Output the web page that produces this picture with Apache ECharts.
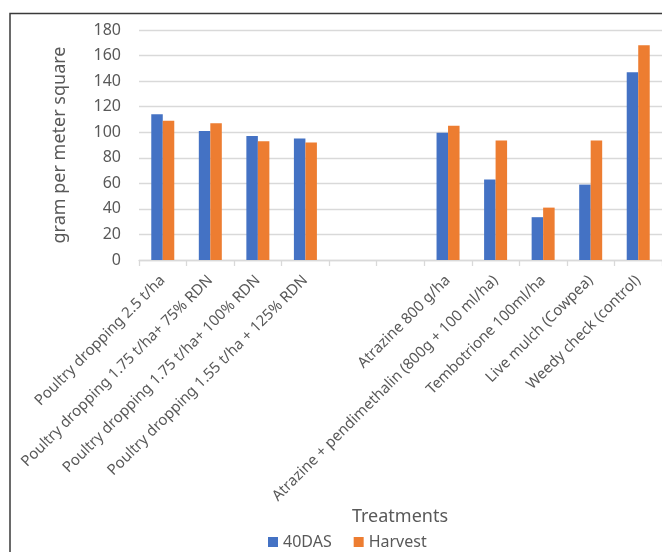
<!DOCTYPE html>
<html>
<head>
<meta charset="utf-8">
<script src="https://cdn.jsdelivr.net/npm/echarts@6/dist/echarts.min.js"></script>
<style>
  html, body { margin: 0; padding: 0; background: #fff; }
  #chart { width: 662px; height: 552px; }
</style>
</head>
<body>
<div id="chart"></div>
<script>
// Treatments on the category axis (two blank slots separate the groups)
const categories = [
  'Poultry dropping 2.5 t/ha',
  'Poultry dropping 1.75 t/ha+ 75% RDN',
  'Poultry dropping 1.75 t/ha+ 100% RDN',
  'Poultry dropping 1.55 t/ha + 125% RDN',
  '',
  '',
  'Atrazine 800 g/ha',
  'Atrazine + pendimethalin (800g + 100 ml/ha)',
  'Tembotrione 100ml/ha',
  'Live mulch (Cowpea)',
  'Weedy check (control)'
];

// Weed dry weight, gram per square metre
const das40 = [114, 101, 97, 95, null, null, 99.5, 63, 33.5, 59, 147];
const harvest = [109, 107, 93, 92, null, null, 105, 93.5, 41, 93.5, 168];

const yTicks = { min: 0, max: 180, interval: 20 };

const textColor = '#595959';
const font = 'Noto Sans';

const chart = echarts.init(document.getElementById('chart'), null, { renderer: 'canvas' });

chart.setOption({
  backgroundColor: '#ffffff',
  animation: false,
  textStyle: { fontFamily: font, color: textColor },
  graphic: [
    {
      type: 'polyline',
      shape: { points: [[10, 560], [10, 13.5], [670, 13.5]] },
      style: { stroke: '#3a3a3a', lineWidth: 1.5, fill: null },
      z: 100
    },
    {
      type: 'text',
      style: {
        x: 400,
        y: 517,
        text: 'Treatments',
        font: '18px "Noto Sans"',
        fill: textColor,
        textAlign: 'center',
        textVerticalAlign: 'middle'
      }
    }
  ],
  legend: {
    top: 529,
    left: 263,
    itemWidth: 10,
    itemHeight: 10,
    itemGap: 22,
    icon: 'rect',
    textStyle: { fontFamily: font, fontSize: 16, color: textColor },
    data: ['40DAS', 'Harvest']
  },
  grid: {
    left: 139,
    right: 0,
    top: 30,
    bottom: 292,
    containLabel: false
  },
  xAxis: {
    type: 'category',
    data: categories,
    boundaryGap: true,
    axisLine: { show: true, lineStyle: { color: '#d9d9d9', width: 1.3 } },
    axisTick: { show: true, alignWithLabel: false, length: 6, lineStyle: { color: '#d9d9d9', width: 1.3 } },
    axisLabel: {
      interval: 0,
      rotate: 45,
      margin: 18,
      fontFamily: font,
      fontSize: 15,
      color: textColor
    }
  },
  yAxis: {
    type: 'value',
    min: yTicks.min,
    max: yTicks.max,
    interval: yTicks.interval,
    name: 'gram per meter square',
    nameLocation: 'middle',
    nameGap: 70,
    nameTextStyle: { fontFamily: font, fontSize: 18, color: textColor },
    axisLine: { show: false },
    axisTick: { show: false },
    axisLabel: { margin: 18, fontFamily: font, fontSize: 16, color: textColor },
    splitLine: { lineStyle: { color: '#d9d9d9', width: 1.3 } }
  },
  series: [
    {
      name: '40DAS',
      type: 'bar',
      data: das40,
      barWidth: 11.5,
      barGap: '0%',
      itemStyle: { color: '#4472C4' }
    },
    {
      name: 'Harvest',
      type: 'bar',
      data: harvest,
      barWidth: 11.5,
      barGap: '0%',
      itemStyle: { color: '#ED7D31' }
    }
  ]
});
</script>
</body>
</html>
